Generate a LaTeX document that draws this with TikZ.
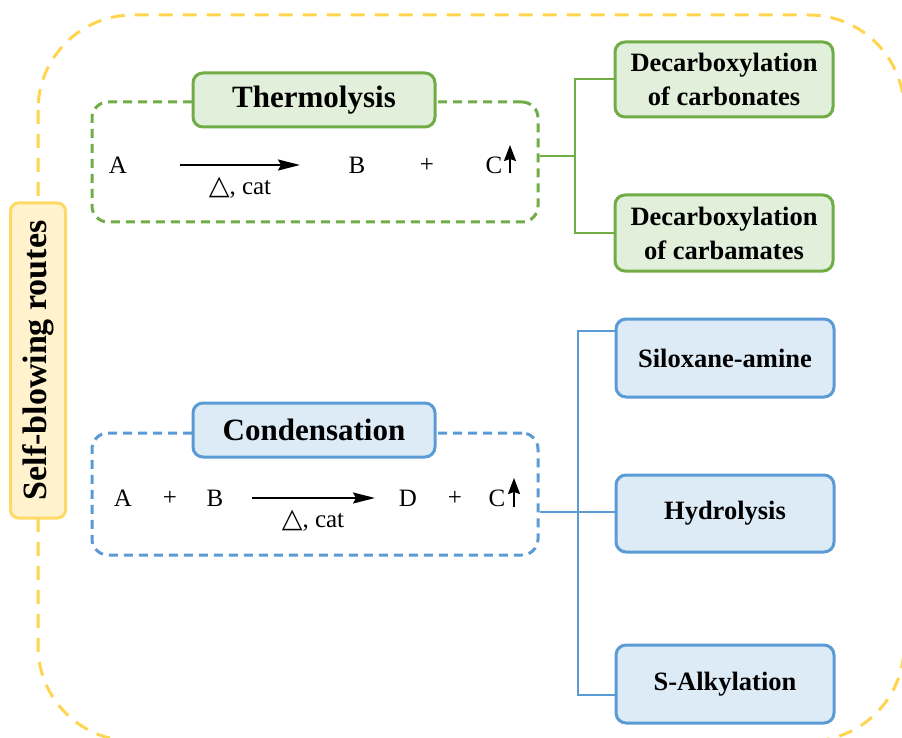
\documentclass[tikz,border=0pt]{standalone}
\usepackage{fontspec}
\setmainfont{Liberation Serif}
\newfontfamily\dv{DejaVu Sans}
\usetikzlibrary{arrows.meta}
\definecolor{gbd}{HTML}{70AD47}
\definecolor{gfl}{HTML}{E2EFDA}
\definecolor{bbd}{HTML}{5B9BD5}
\definecolor{bfl}{HTML}{DDEBF7}
\definecolor{ybd}{HTML}{FFD966}
\definecolor{yfl}{HTML}{FFF2CC}
\definecolor{ydash}{HTML}{FFD54F}
\tikzset{
  gbox/.style={draw=gbd, fill=gfl, line width=3pt, rounded corners=10pt, align=center, font=\fontsize{26.5}{34}\selectfont\bfseries, inner sep=0pt},
  bbox/.style={draw=bbd, fill=bfl, line width=3pt, rounded corners=10pt, align=center, font=\fontsize{26.5}{34}\selectfont\bfseries, inner sep=0pt},
  gtitle/.style={gbox, font=\fontsize{31}{34}\selectfont\bfseries},
  btitle/.style={bbox, font=\fontsize{31}{34}\selectfont\bfseries},
  ggroup/.style={draw=gbd, line width=3pt, dash pattern=on 9pt off 6pt, rounded corners=16pt, inner sep=0pt},
  bgroup/.style={draw=bbd, line width=3pt, dash pattern=on 9pt off 6pt, rounded corners=16pt, inner sep=0pt},
  gline/.style={draw=gbd, line width=2pt},
  bline/.style={draw=bbd, line width=2pt},
  rtxt/.style={font=\fontsize{25}{28}\selectfont, inner sep=0pt},
  rxn/.style={line width=2pt, -{Stealth[length=22pt,width=11pt,inset=3pt]}},
  gas/.style={line width=2pt, -{Stealth[length=16pt,width=12pt,inset=2pt]}},
}
\begin{document}
\begin{tikzpicture}[x=1pt,y=-1pt]
\useasboundingbox (0,0) rectangle (902,738);
% outer yellow dashed frame
\draw[ydash, line width=3pt, dash pattern=on 14pt off 10pt, rounded corners=95pt] (38,15) rectangle (904,741);
% side label
\node[draw=ybd, fill=yfl, line width=3pt, rounded corners=8pt, rotate=90, minimum width=315pt, minimum height=55pt, inner sep=0pt, font=\fontsize{34}{36}\selectfont\bfseries] (sb) at (38,360.5) {Self-blowing routes};

% Thermolysis group
\node[ggroup, minimum width=446pt, minimum height=120pt] (tgroup) at (315,162) {};
\node[gtitle, minimum width=242pt, minimum height=54pt] (ttitle) at (314,100) {Thermolysis};
\node[rtxt] (tA) at (118,165) {A};
\coordinate (tr1) at (180,165);
\coordinate (tr2) at (300,165);
\draw[rxn] (tr1) -- (tr2);
\node[rtxt] (tcat) at (240,188) {{\dv\fontsize{27}{28}\selectfont △}, cat};
\node[rtxt] (tB) at (357,165) {B};
\node[rtxt] (tplus) at (427,165) {+};
\node[rtxt] (tC) at (494,165) {C};
\coordinate (tg1) at (510,173);
\coordinate (tg2) at (510,145);
\draw[gas] (tg1) -- (tg2);

% green boxes
\node[gbox, minimum width=218pt, minimum height=75pt] (dc1) at (724,79.5) {Decarboxylation\\of carbonates};
\node[gbox, minimum width=218pt, minimum height=76pt] (dc2) at (724,233) {Decarboxylation\\of carbamates};
\coordinate (tj) at (575,156);
\draw[gline] (tgroup.east |- tj) -- (tj);
\draw[gline] (dc1.west) -| (tj) |- (dc2.west);

% Condensation group
\node[bgroup, minimum width=446pt, minimum height=122pt] (cgroup) at (315,494) {};
\node[btitle, minimum width=242pt, minimum height=54pt] (ctitle) at (314,430) {Condensation};
\node[rtxt] (cA) at (123,498) {A};
\node[rtxt] (cp1) at (170,498) {+};
\node[rtxt] (cB) at (215,498) {B};
\coordinate (cr1) at (252,498);
\coordinate (cr2) at (375,498);
\draw[rxn] (cr1) -- (cr2);
\node[rtxt] (ccat) at (313,521) {{\dv\fontsize{27}{28}\selectfont △}, cat};
\node[rtxt] (cD) at (408,498) {D};
\node[rtxt] (cp2) at (455,498) {+};
\node[rtxt] (cC) at (497,498) {C};
\coordinate (cg1) at (514,507);
\coordinate (cg2) at (514,478);
\draw[gas] (cg1) -- (cg2);

% blue boxes
\node[bbox, minimum width=218pt, minimum height=78pt] (sa) at (725,358) {Siloxane-amine};
\node[bbox, minimum width=218pt, minimum height=77pt] (hy) at (725,513.5) {Hydrolysis};
\node[bbox, minimum width=218pt, minimum height=78pt] (sk) at (725,684) {S-Alkylation};
\coordinate (bj) at (578,512);
\coordinate (btop) at (578,331);
\coordinate (bbot) at (578,695);
\draw[bline] (cgroup.east |- bj) -- (hy.west |- bj);
\draw[bline] (sa.west |- btop) -- (btop) -- (bbot) -- (sk.west |- bbot);
\end{tikzpicture}
\end{document}
